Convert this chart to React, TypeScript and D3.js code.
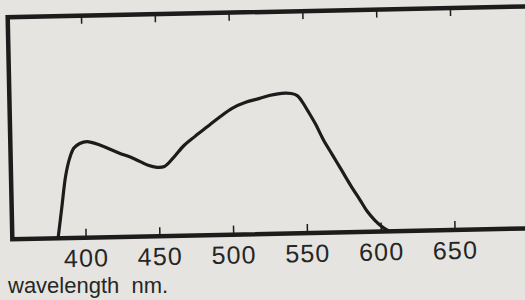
import React from "react";
import * as d3 from "d3";

// wavelength (nm) and relative response (% of frame height)
const wavelengths = [381, 384, 387, 390, 393, 397, 402, 411, 423, 434, 443, 449, 454, 460, 467.6, 475, 483.6, 492, 501, 510, 519, 526, 532, 537, 541, 545, 548, 552, 557, 562, 568, 574, 580, 586, 591, 596, 600, 603, 606];
const response = [0, 14, 28, 36, 40.5, 42.5, 43.3, 41.5, 38, 35, 32, 31, 31.3, 35, 40.6, 44.5, 48.8, 53, 57, 59.5, 61, 62.3, 63, 63.2, 63, 62, 59.5, 55, 49, 42, 35, 28, 21, 14.5, 9, 5, 2.5, 1, 0];
const tickValues = [400, 450, 500, 550, 600, 650];
const xLabel = "wavelength  nm.";

const W = 525;
const H = 300;
const frame = { left: 10, top: 12, bottom: 234 };

export default function App() {
  const x = d3.scaleLinear().domain([350, 710]).range([frame.left, frame.left + 360 * 1.476]);
  const y = d3.scaleLinear().domain([0, 100]).range([frame.bottom, frame.top]);

  const pts = wavelengths.map((w, i) => [w, response[i]] as [number, number]);
  const line = d3
    .line<[number, number]>()
    .x((d) => x(d[0]))
    .y((d) => y(d[1]))
    .curve(d3.curveCatmullRom.alpha(0.5));

  const x0 = x.range()[0];
  const x1 = x.range()[1];
  const ink = "#1c1c1c";

  return (
    <svg
      width={W}
      height={H}
      style={{ position: "fixed", left: 0, top: 0, display: "block" }}
      fontFamily="'Liberation Sans', Arial, sans-serif"
    >
      <rect width={W} height={H} fill="#e5e4e0" />
      <g transform={`rotate(-1.2, 262, 125)`}>
        {/* frame */}
        <path
          d={`M${x1},${frame.top}H${x0}V${frame.bottom}H${x1}`}
          fill="none"
          stroke={ink}
          strokeWidth={4.5}
        />
        {/* ticks top and bottom, pointing inward */}
        {tickValues.map((t) => (
          <g key={t}>
            <line x1={x(t)} x2={x(t)} y1={frame.top} y2={frame.top + 8} stroke={ink} strokeWidth={1.5} />
            <line x1={x(t)} x2={x(t)} y1={frame.bottom} y2={frame.bottom - 9} stroke={ink} strokeWidth={1.5} />
            <text x={x(t)} y={frame.bottom + 29} textAnchor="middle" fontSize={25} letterSpacing={1.2} fill="#262626">
              {t}
            </text>
          </g>
        ))}
        <path d={line(pts) || ""} fill="none" stroke={ink} strokeWidth={3.2} strokeLinejoin="round" />
      </g>
      <text x={8} y={293} fontSize={22} fill="#262626" style={{ whiteSpace: "pre" }}>
        {xLabel}
      </text>
    </svg>
  );
}
